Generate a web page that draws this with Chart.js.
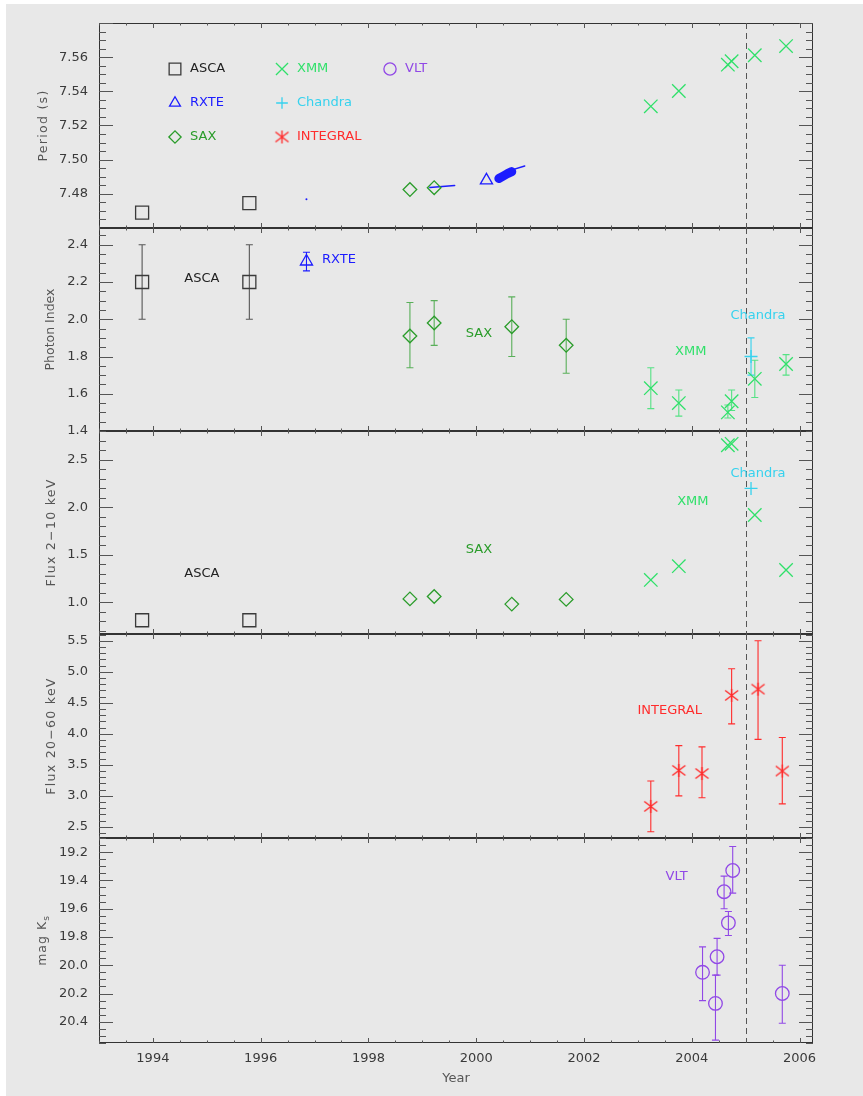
<!DOCTYPE html>
<html>
<head>
<meta charset="utf-8">
<script src="https://cdn.jsdelivr.net/npm/chart.js@4.4.1/dist/chart.umd.min.js"></script>
<style>
  html, body { margin: 0; padding: 0; background: #ffffff; }
  #page { position: absolute; left: 6px; top: 4px; width: 857px; height: 1092px; background: #e8e8e8; }
  canvas { position: absolute; left: 0; }
</style>
</head>
<body>
<div id="page"></div>
<canvas id="c0"></canvas>
<canvas id="c1"></canvas>
<canvas id="c2"></canvas>
<canvas id="c3"></canvas>
<canvas id="c4"></canvas>
<script>
// ================= DATA =================
// x axis (decimal year)
const yearTicks = [1994, 1996, 1998, 2000, 2002, 2004, 2006];
const yearRange = [1993.0, 2006.25];
const refEpoch = 2005.0;

// observation epochs
const ascaYears     = [1993.80, 1995.79];
const rxteDotYears  = [1996.85];
const rxteTriYears  = [2000.19];
const rxteIdxYears  = [1996.85];
const saxYears      = [1998.77, 1999.22, 2000.66, 2001.67];
const saxPerYears   = [1998.77, 1999.22];
const xmmYears      = [2003.24, 2003.76, 2004.67, 2004.74, 2005.17, 2005.75];
const chandraYears  = [2005.10];
const integralYears = [2003.24, 2003.76, 2004.19, 2004.74, 2005.23, 2005.68];
const vltYears      = [2004.20, 2004.44, 2004.47, 2004.60, 2004.68, 2004.76, 2005.68];

// Panel 1: Period (s)
const periodTicks = [7.48, 7.50, 7.52, 7.54, 7.56];
const periodRange = [7.46, 7.58];
const ascaPeriod   = [7.4690, 7.4746];
const rxteDotPeriod = [7.4768];
const rxteTriPeriod = [7.4879];
const saxPeriod    = [7.4825, 7.4836];
const xmmPeriod    = [7.5312, 7.5402, 7.5556, 7.5576, 7.5611, 7.5665];
const rxteTrackYears  = [1999.14, 1999.60];
const rxteTrackPeriod = [7.4837, 7.4849];
const rxteBlobYears   = [2000.42, 2000.50, 2000.58, 2000.66];
const rxteBlobPeriod  = [7.4890, 7.4904, 7.4918, 7.4930];
const rxteTailYears   = [2000.62, 2000.90];
const rxteTailPeriod  = [7.4936, 7.4963];

// Panel 2: Photon index
const indexTicks = [1.4, 1.6, 1.8, 2.0, 2.2, 2.4];
const indexRange = [1.4, 2.49];
const ascaIndex   = [2.20, 2.20], ascaIndexLo = [2.00, 2.00], ascaIndexHi = [2.40, 2.40];
const rxteIndex   = [2.31], rxteIndexLo = [2.26], rxteIndexHi = [2.36];
const saxIndex    = [1.91, 1.98, 1.96, 1.86];
const saxIndexLo  = [1.74, 1.86, 1.80, 1.71];
const saxIndexHi  = [2.09, 2.10, 2.12, 2.00];
const xmmIndex    = [1.63, 1.55, 1.50, 1.56, 1.68, 1.76];
const xmmIndexLo  = [1.52, 1.48, 1.47, 1.51, 1.58, 1.70];
const xmmIndexHi  = [1.74, 1.62, 1.54, 1.62, 1.78, 1.81];
const chandraIndex = [1.80], chandraIndexLo = [1.70], chandraIndexHi = [1.90];

// Panel 3: Flux 2-10 keV
const flux2Ticks = [1.0, 1.5, 2.0, 2.5];
const flux2Range = [0.665, 2.805];
const ascaFlux    = [0.81, 0.81];
const saxFlux     = [1.035, 1.06, 0.98, 1.03];
const xmmFlux     = [1.235, 1.38, 2.655, 2.67, 1.92, 1.34];
const chandraFlux = [2.20];

// Panel 4: Flux 20-60 keV
const flux20Ticks = [2.5, 3.0, 3.5, 4.0, 4.5, 5.0, 5.5];
const flux20Range = [2.32, 5.61];
const integralFlux   = [2.83, 3.41, 3.36, 4.62, 4.72, 3.40];
const integralFluxLo = [2.42, 3.00, 2.97, 4.16, 3.91, 2.87];
const integralFluxHi = [3.24, 3.81, 3.79, 5.05, 5.50, 3.94];

// Panel 5: mag Ks (reversed axis)
const magTicks = [19.2, 19.4, 19.6, 19.8, 20.0, 20.2, 20.4];
const magRange = [19.1, 20.55];
const vltMag   = [20.05, 20.27, 19.94, 19.48, 19.70, 19.33, 20.20];
const vltMagLo = [19.87, 20.07, 19.81, 19.37, 19.62, 19.16, 20.00];
const vltMagHi = [20.25, 20.53, 20.07, 19.60, 19.79, 19.49, 20.41];

// ================= STYLE =================
const COL = {
  asca: '#3a3a3a', rxte: '#1c1cff', sax: '#2a9c2a', xmm: '#30e06a',
  chandra: '#36d2ee', integral: '#ff2c2c', vlt: '#9148e6'
};
const FONT = 'DejaVu Sans';
Chart.defaults.font.family = FONT;
const PLOT_LEFT = 99, PLOT_RIGHT = 813, M = 24, PAGE_H = 1096, PAGE_W = 863;

function makeAsterisk(color) {
  const c = document.createElement('canvas');
  c.width = 17; c.height = 15;
  const g = c.getContext('2d');
  g.strokeStyle = color; g.lineWidth = 1.4;
  g.beginPath();
  g.moveTo(8.5, 1); g.lineTo(8.5, 14);
  g.moveTo(2, 2.5); g.lineTo(15, 12.5);
  g.moveTo(2, 12.5); g.lineTo(15, 2.5);
  g.stroke();
  return c;
}
const asteriskRed = makeAsterisk(COL.integral);

const STY = {
  asca:     { shape: 'rect', r: 9.2, color: COL.asca, err: 'rgba(60,60,60,0.85)' },
  rxte:     { shape: 'triangle', r: 7, color: COL.rxte, err: COL.rxte },
  sax:      { shape: 'rectRot', r: 6.8, color: COL.sax, err: 'rgba(42,156,42,0.75)' },
  xmm:      { shape: 'crossRot', r: 9.5, color: COL.xmm, err: 'rgba(48,224,106,0.8)' },
  chandra:  { shape: 'cross', r: 6.5, color: COL.chandra, err: COL.chandra },
  integral: { shape: asteriskRed, r: 8, color: COL.integral, err: COL.integral },
  vlt:      { shape: 'circle', r: 6.8, color: COL.vlt, err: COL.vlt }
};

function pts(xs, ys, lo, hi) {
  return xs.map((x, i) => ({ x: x, y: ys[i], yMin: lo ? lo[i] : null, yMax: hi ? hi[i] : null }));
}
function ds(label, xs, ys, st, lo, hi) {
  return {
    label: label, data: pts(xs, ys, lo, hi), showLine: false,
    pointStyle: st.shape, pointRadius: st.r, pointHoverRadius: st.r,
    borderColor: st.color, backgroundColor: 'rgba(0,0,0,0)', pointBorderWidth: 1.3,
    errColor: st.err
  };
}
function track(label, xs, ys, width) {
  return {
    label: label, data: pts(xs, ys), showLine: true, pointRadius: 0,
    borderColor: COL.rxte, borderWidth: width, borderCapStyle: 'round', borderJoinStyle: 'round'
  };
}

const panels = [
  {
    top: 23, bottom: 228, range: periodRange, ticks: periodTicks, dec: 2, major: 0.02, minor: 0.005,
    title: 'Period (s)', titleX: 44, ls: 1.3, legend: true,
    datasets: [
      ds('ASCA', ascaYears, ascaPeriod, STY.asca),
      { label: 'RXTE', data: pts(rxteDotYears, rxteDotPeriod), showLine: false, pointStyle: 'circle',
        pointRadius: 1, borderColor: COL.rxte, backgroundColor: COL.rxte, pointBorderWidth: 0 },
      ds('RXTE', rxteTriYears, rxteTriPeriod, STY.rxte),
      ds('SAX', saxPerYears, saxPeriod, STY.sax),
      track('RXTE timing', rxteTrackYears, rxteTrackPeriod, 1.5),
      track('RXTE timing', rxteBlobYears, rxteBlobPeriod, 9),
      track('RXTE timing', rxteTailYears, rxteTailPeriod, 1.5),
      ds('XMM', xmmYears, xmmPeriod, STY.xmm)
    ],
    notes: []
  },
  {
    top: 228, bottom: 431, range: indexRange, ticks: indexTicks, dec: 1, major: 0.2, minor: 0.05,
    title: 'Photon Index', titleX: 51, ls: 0,
    datasets: [
      ds('ASCA', ascaYears, ascaIndex, STY.asca, ascaIndexLo, ascaIndexHi),
      ds('RXTE', rxteIdxYears, rxteIndex, STY.rxte, rxteIndexLo, rxteIndexHi),
      ds('SAX', saxYears, saxIndex, STY.sax, saxIndexLo, saxIndexHi),
      ds('XMM', xmmYears, xmmIndex, STY.xmm, xmmIndexLo, xmmIndexHi),
      ds('Chandra', chandraYears, chandraIndex, STY.chandra, chandraIndexLo, chandraIndexHi)
    ],
    notes: [
      { text: 'ASCA', x: 1994.91, y: 2.217, color: '#222', align: 'center' },
      { text: 'RXTE', x: 1997.14, y: 2.318, color: COL.rxte, align: 'left' },
      { text: 'SAX', x: 2000.05, y: 1.921, color: COL.sax, align: 'center' },
      { text: 'XMM', x: 2003.98, y: 1.824, color: COL.xmm, align: 'center' },
      { text: 'Chandra', x: 2005.23, y: 2.018, color: COL.chandra, align: 'center' }
    ]
  },
  {
    top: 431, bottom: 634, range: flux2Range, ticks: flux2Ticks, dec: 1, major: 0.5, minor: 0.1,
    title: 'Flux 2\u221210 keV', titleX: 52, ls: 1.3,
    datasets: [
      ds('ASCA', ascaYears, ascaFlux, STY.asca),
      ds('SAX', saxYears, saxFlux, STY.sax),
      ds('XMM', xmmYears, xmmFlux, STY.xmm),
      ds('Chandra', chandraYears, chandraFlux, STY.chandra)
    ],
    notes: [
      { text: 'ASCA', x: 1994.91, y: 1.298, color: '#222', align: 'center' },
      { text: 'SAX', x: 2000.05, y: 1.551, color: COL.sax, align: 'center' },
      { text: 'XMM', x: 2004.02, y: 2.057, color: COL.xmm, align: 'center' },
      { text: 'Chandra', x: 2005.23, y: 2.352, color: COL.chandra, align: 'center' }
    ]
  },
  {
    top: 634, bottom: 838, range: flux20Range, ticks: flux20Ticks, dec: 1, major: 0.5, minor: 0.1,
    title: 'Flux 20\u221260 keV', titleX: 52, ls: 1.3,
    datasets: [
      ds('INTEGRAL', integralYears, integralFlux, STY.integral, integralFluxLo, integralFluxHi)
    ],
    notes: [
      { text: 'INTEGRAL', x: 2003.59, y: 4.382, color: COL.integral, align: 'center' }
    ]
  },
  {
    top: 838, bottom: 1043, range: magRange, ticks: magTicks, dec: 1, major: 0.2, minor: 0.05, reverse: true,
    title: 'mag K', sub: 's', titleX: 43, ls: 1, last: true,
    datasets: [
      ds('VLT', vltYears, vltMag, STY.vlt, vltMagLo, vltMagHi)
    ],
    notes: [
      { text: 'VLT', x: 2003.72, y: 19.372, color: COL.vlt, align: 'center' }
    ]
  }
];

const legendItems = [
  { text: 'ASCA', st: STY.asca, col: 0, row: 0 },
  { text: 'RXTE', st: STY.rxte, col: 0, row: 1 },
  { text: 'SAX', st: STY.sax, col: 0, row: 2 },
  { text: 'XMM', st: STY.xmm, col: 1, row: 0 },
  { text: 'Chandra', st: STY.chandra, col: 1, row: 1 },
  { text: 'INTEGRAL', st: STY.integral, col: 1, row: 2 },
  { text: 'VLT', st: STY.vlt, col: 2, row: 0 }
];
const legendColX = [175, 282, 390];
const legendRowY = [46, 80, 114]; // relative to panel top

// ================= PLUGIN =================
const panelPlugin = {
  id: 'panel',
  beforeDatasetsDraw(chart, args, o) {
    const { ctx, chartArea: a, scales: { x, y } } = chart;
    ctx.save();
    ctx.beginPath(); ctx.rect(a.left, a.top, a.right - a.left, a.bottom - a.top); ctx.clip();
    // dashed reference epoch
    const px = Math.round(x.getPixelForValue(refEpoch)) + 0.5;
    ctx.strokeStyle = '#555'; ctx.lineWidth = 1; ctx.setLineDash([6, 4]);
    ctx.beginPath(); ctx.moveTo(px, a.top); ctx.lineTo(px, a.bottom); ctx.stroke();
    ctx.setLineDash([]);
    // error bars
    chart.data.datasets.forEach((d) => {
      d.data.forEach((p) => {
        if (p.yMin == null || p.yMax == null) return;
        const cx = x.getPixelForValue(p.x);
        const y1 = y.getPixelForValue(p.yMin), y2 = y.getPixelForValue(p.yMax);
        ctx.strokeStyle = d.errColor || d.borderColor; ctx.lineWidth = 1.1;
        ctx.beginPath();
        ctx.moveTo(cx, y1); ctx.lineTo(cx, y2);
        ctx.moveTo(cx - 3.5, y1); ctx.lineTo(cx + 3.5, y1);
        ctx.moveTo(cx - 3.5, y2); ctx.lineTo(cx + 3.5, y2);
        ctx.stroke();
      });
    });
    ctx.restore();
  },
  afterDraw(chart, args, o) {
    const { ctx, chartArea: a, scales: { x, y } } = chart;
    const p = o.cfg;
    ctx.save();
    // frame
    ctx.strokeStyle = '#333'; ctx.lineWidth = 1;
    ctx.strokeRect(a.left + 0.5, a.top + 0.5, a.right - a.left - 1, a.bottom - a.top - 1);
    // x ticks (minor 0.5 yr, major 2 yr), inward on bottom and top
    ctx.strokeStyle = '#555';
    ctx.beginPath();
    for (let n = Math.ceil(x.min / 0.5); n * 0.5 <= x.max + 1e-9; n++) {
      const v = n * 0.5;
      const major = Math.abs(v / 2 - Math.round(v / 2)) < 1e-6;
      const L = major ? 5 : 2.5;
      const px = Math.round(x.getPixelForValue(v)) + 0.5;
      ctx.moveTo(px, a.bottom); ctx.lineTo(px, a.bottom - L);
      ctx.moveTo(px, a.top); ctx.lineTo(px, a.top + L);
    }
    // y ticks, inward on left and right
    const lo = Math.min(y.min, y.max), hi = Math.max(y.min, y.max);
    for (let n = Math.ceil(lo / p.minor - 1e-6); n * p.minor <= hi + 1e-9; n++) {
      const v = n * p.minor;
      const major = Math.abs(v / p.major - Math.round(v / p.major)) < 1e-6;
      const L = major ? 14 : 7;
      const py = Math.round(y.getPixelForValue(v)) + 0.5;
      ctx.moveTo(a.left, py); ctx.lineTo(a.left + L, py);
      ctx.moveTo(a.right, py); ctx.lineTo(a.right - L, py);
    }
    ctx.stroke();

    // y axis title (rotated)
    ctx.fillStyle = '#555';
    ctx.font = '12.5px "' + FONT + '"';
    ctx.letterSpacing = p.ls + 'px';
    const cy = (a.top + a.bottom) / 2;
    ctx.translate(p.titleX, cy);
    ctx.rotate(-Math.PI / 2);
    ctx.textBaseline = 'middle';
    if (p.sub) {
      const w1 = ctx.measureText(p.title).width;
      ctx.font = '9px "' + FONT + '"';
      const w2 = ctx.measureText(p.sub).width;
      const tot = w1 + w2;
      ctx.font = '12.5px "' + FONT + '"';
      ctx.textAlign = 'left';
      ctx.fillText(p.title, -tot / 2, 0);
      ctx.font = '9px "' + FONT + '"';
      ctx.fillText(p.sub, -tot / 2 + w1, 4);
    } else {
      ctx.textAlign = 'center';
      ctx.fillText(p.title, 0, 0);
    }
    ctx.setTransform(1, 0, 0, 1, 0, 0);
    ctx.letterSpacing = '0px';

    // in-panel labels
    ctx.font = '13px "' + FONT + '"';
    ctx.textBaseline = 'middle';
    p.notes.forEach((n) => {
      ctx.fillStyle = n.color; ctx.textAlign = n.align;
      ctx.fillText(n.text, x.getPixelForValue(n.x), y.getPixelForValue(n.y));
    });

    // legend (panel 1)
    if (p.legend) {
      legendItems.forEach((it) => {
        const lx = legendColX[it.col], ly = a.top + legendRowY[it.row];
        ctx.strokeStyle = it.st.color; ctx.fillStyle = 'rgba(0,0,0,0)'; ctx.lineWidth = 1.3;
        Chart.helpers.drawPoint(ctx, { pointStyle: it.st.shape, radius: it.st.r * 0.9, borderWidth: 1.3, rotation: 0 }, lx, ly);
        ctx.fillStyle = it.st.color === COL.asca ? '#222' : it.st.color;
        ctx.textAlign = 'left'; ctx.textBaseline = 'middle';
        ctx.font = '13px "' + FONT + '"';
        ctx.fillText(it.text, lx + 15, ly);
      });
    }
    ctx.restore();
  }
};

// ================= BUILD CHARTS =================
panels.forEach((p, i) => {
  const canvas = document.getElementById('c' + i);
  const top = p.top - M;
  const h = p.last ? (PAGE_H - top) : (p.bottom - p.top + 2 * M);
  canvas.width = PAGE_W; canvas.height = h;
  canvas.style.top = top + 'px';
  canvas.style.width = PAGE_W + 'px'; canvas.style.height = h + 'px';
  const ticksArr = p.ticks;
  new Chart(canvas, {
    type: 'scatter',
    data: { datasets: p.datasets },
    options: {
      responsive: false, animation: false, devicePixelRatio: 1,
      events: [],
      layout: { padding: { left: 0, right: PAGE_W - PLOT_RIGHT, top: M, bottom: p.last ? 0 : M } },
      plugins: { legend: { display: false }, tooltip: { enabled: false }, panel: { cfg: p } },
      scales: {
        x: {
          type: 'linear', min: yearRange[0], max: yearRange[1],
          display: !!p.last,
          afterBuildTicks: (s) => { s.ticks = yearTicks.map((v) => ({ value: v })); },
          afterFit: (s) => { s.height = p.last ? (PAGE_H - p.bottom) : 0; },
          grid: { display: false, drawTicks: false },
          border: { display: false },
          ticks: { autoSkip: false, maxRotation: 0, padding: 8, color: '#3a3a3a',
                   font: { family: FONT, size: 13 }, callback: (v) => String(v) },
          title: { display: true, text: 'Year', color: '#555', font: { family: FONT, size: 13 },
                   padding: { top: 0, bottom: 10 } }
        },
        y: {
          type: 'linear', min: p.range[0], max: p.range[1], reverse: !!p.reverse,
          afterBuildTicks: (s) => { s.ticks = ticksArr.map((v) => ({ value: v })); },
          afterFit: (s) => { s.width = PLOT_LEFT; },
          grid: { display: false, drawTicks: false },
          border: { display: false },
          ticks: { padding: 11, color: '#3a3a3a', font: { family: FONT, size: 13 },
                   callback: (v) => Number(v).toFixed(p.dec) }
        }
      }
    },
    plugins: [panelPlugin]
  });
});
</script>
</body>
</html>
